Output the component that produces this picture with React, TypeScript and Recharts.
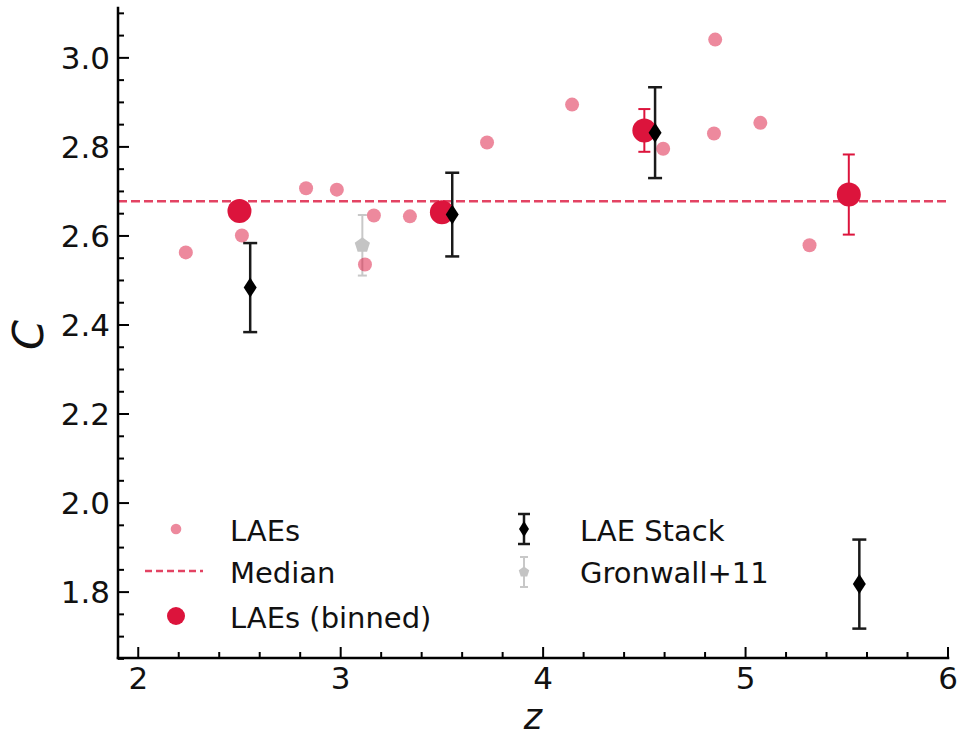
import React from 'react';
import { ScatterChart, Scatter, XAxis, YAxis, ErrorBar, ReferenceLine, Legend } from 'recharts';

// Individual LAEs
const laeZ = [2.235, 2.512, 2.829, 2.981, 3.164, 3.12, 3.342, 3.723, 4.143, 4.593, 4.85, 4.844, 5.073, 5.316];
const laeC = [2.563, 2.601, 2.707, 2.704, 2.646, 2.536, 2.644, 2.81, 2.895, 2.796, 3.041, 2.83, 2.854, 2.579];

// Binned LAEs
const binZ = [2.5, 3.5, 4.5, 5.51];
const binC = [2.656, 2.653, 2.837, 2.693];
const binErr = [0.02, 0.02, 0.048, 0.09];

// Stacked LAE spectra
const stackZ = [2.553, 3.551, 4.553, 5.562];
const stackC = [2.484, 2.648, 2.832, 1.818];
const stackErr = [0.1, 0.094, 0.102, 0.1];

// Gronwall et al. 2011
const gronZ = [3.107];
const gronC = [2.579];
const gronErr = [0.068];

const medianC = 2.678;

const xMajor = [2, 3, 4, 5, 6];
const yMajor = [1.8, 2.0, 2.2, 2.4, 2.6, 2.8, 3.0];
const xAllTicks = Array.from({ length: 21 }, (_, i) => Math.round((2 + i * 0.2) * 100) / 100);
const yAllTicks = Array.from({ length: 30 }, (_, i) => Math.round((1.65 + i * 0.05) * 100) / 100);

const X_DOMAIN: [number, number] = [1.9, 6.0];
const Y_DOMAIN: [number, number] = [1.652, 3.112];

// chart layout
const CHART_W = 960;
const CHART_H = 738;
const MARGIN = { top: 8, right: 12, bottom: 0, left: 0 };
const Y_AXIS_W = 118;
const X_AXIS_H = 80;
const PLOT_LEFT = MARGIN.left + Y_AXIS_W;
const PLOT_RIGHT = CHART_W - MARGIN.right;
const PLOT_TOP = MARGIN.top;
const PLOT_BOTTOM = CHART_H - MARGIN.bottom - X_AXIS_H;

const FONT = '"DejaVu Sans", sans-serif';
const TEXT = '#111';
const CRIMSON = '#dc143c';

const lae = laeZ.map((z, i) => ({ z, c: laeC[i] }));
const binned = binZ.map((z, i) => ({ z, c: binC[i], err: binErr[i] }));
const stack = stackZ.map((z, i) => ({ z, c: stackC[i], err: stackErr[i] }));
const gron = gronZ.map((z, i) => ({ z, c: gronC[i], err: gronErr[i] }));

const isMajor = (v: number, majors: number[]) => majors.some((m) => Math.abs(m - v) < 1e-6);

const MAJOR_LEN = 11;
const MINOR_LEN = 6;
const TICK_FONT = 31;

// inward-pointing ticks on all four sides of the frame
const BottomTick = (props: any) => {
  const { x, payload } = props;
  const y = PLOT_BOTTOM;
  const major = isMajor(payload.value, xMajor);
  return (
    <g>
      <line x1={x} y1={y} x2={x} y2={y - (major ? MAJOR_LEN : MINOR_LEN)} stroke="#000" strokeWidth={2} />
      {major && (
        <text x={x} y={y + 31} textAnchor="middle" fontSize={TICK_FONT} fontFamily={FONT} fill={TEXT}>
          {String(payload.value)}
        </text>
      )}
    </g>
  );
};

const TopTick = (props: any) => {
  const { x, payload } = props;
  const y = PLOT_TOP;
  const major = isMajor(payload.value, xMajor);
  return <line x1={x} y1={y} x2={x} y2={y + (major ? MAJOR_LEN : MINOR_LEN)} stroke="#000" strokeWidth={2} />;
};

const LeftTick = (props: any) => {
  const { y, payload } = props;
  const x = PLOT_LEFT;
  const major = isMajor(payload.value, yMajor);
  return (
    <g>
      <line x1={x} y1={y} x2={x + (major ? MAJOR_LEN : MINOR_LEN)} y2={y} stroke="#000" strokeWidth={2} />
      {major && (
        <text x={x - 8} y={y} dy="0.36em" textAnchor="end" fontSize={TICK_FONT} fontFamily={FONT} fill={TEXT}>
          {Number(payload.value).toFixed(1)}
        </text>
      )}
    </g>
  );
};

const RightTick = (props: any) => {
  const { y, payload } = props;
  const x = PLOT_RIGHT;
  const major = isMajor(payload.value, yMajor);
  return <line x1={x} y1={y} x2={x - (major ? MAJOR_LEN : MINOR_LEN)} y2={y} stroke="#000" strokeWidth={2} />;
};

const diamondPts = (cx: number, cy: number, hw: number, hh: number) =>
  `${cx},${cy - hh} ${cx + hw},${cy} ${cx},${cy + hh} ${cx - hw},${cy}`;

const pentagonPts = (cx: number, cy: number, r: number) =>
  Array.from({ length: 5 }, (_, k) => {
    const a = -Math.PI / 2 + (k * 2 * Math.PI) / 5;
    return `${cx + r * Math.cos(a)},${cy + r * Math.sin(a)}`;
  }).join(' ');

const LaeDot = (p: any) => <circle cx={p.cx} cy={p.cy} r={7} fill={CRIMSON} fillOpacity={0.5} />;
const BinDot = (p: any) => <circle cx={p.cx} cy={p.cy} r={12} fill={CRIMSON} />;
const StackDiamond = (p: any) => <polygon points={diamondPts(p.cx, p.cy, 6.5, 10)} fill="#000" />;
const GronPentagon = (p: any) => <polygon points={pentagonPts(p.cx, p.cy, 8)} fill="#c4c4c4" />;

const legendText = { fontSize: 29, fontFamily: FONT, fill: TEXT } as const;

const LegendBox = () => (
  <svg width={700} height={140} style={{ display: 'block' }}>
    <circle cx={46} cy={29} r={5.3} fill={CRIMSON} fillOpacity={0.5} />
    <text x={100} y={41} {...legendText}>LAEs</text>

    <line x1={15} y1={71} x2={73} y2={71} stroke="#e34363" strokeWidth={2.5} strokeDasharray="7 4" />
    <text x={100} y={83} {...legendText}>Median</text>

    <circle cx={46} cy={116} r={9} fill={CRIMSON} />
    <text x={100} y={128} {...legendText}>LAEs (binned)</text>

    <line x1={394} y1={14} x2={394} y2={44} stroke="#1a1a1a" strokeWidth={2.5} />
    <line x1={388} y1={14} x2={400} y2={14} stroke="#1a1a1a" strokeWidth={2.5} />
    <line x1={388} y1={44} x2={400} y2={44} stroke="#1a1a1a" strokeWidth={2.5} />
    <polygon points={diamondPts(394, 29, 5, 8)} fill="#000" />
    <text x={450} y={41} {...legendText}>LAE Stack</text>

    <line x1={394} y1={57} x2={394} y2={87} stroke="#c8c8c8" strokeWidth={2} />
    <line x1={390} y1={57} x2={398} y2={57} stroke="#c8c8c8" strokeWidth={2} />
    <line x1={390} y1={87} x2={398} y2={87} stroke="#c8c8c8" strokeWidth={2} />
    <polygon points={pentagonPts(394, 72, 5.5)} fill="#c4c4c4" />
    <text x={450} y={83} {...legendText}>Gronwall+11</text>
  </svg>
);

const frameLine = { stroke: '#000', strokeWidth: 2.5, strokeLinecap: 'square' as const };

export default function App() {
  return (
    <div style={{ position: 'absolute', left: 0, top: 0, background: '#fff' }}>
      <ScatterChart width={CHART_W} height={CHART_H} margin={MARGIN}>
        <XAxis
          xAxisId={0}
          dataKey="z"
          type="number"
          domain={X_DOMAIN}
          allowDataOverflow
          ticks={xAllTicks}
          interval={0}
          tickLine={false}
          tick={<BottomTick />}
          axisLine={frameLine}
          height={X_AXIS_H}
          label={{
            content: () => (
              <text
                x={(PLOT_LEFT + PLOT_RIGHT) / 2}
                y={PLOT_BOTTOM + 71}
                textAnchor="middle"
                fontSize={35}
                fontStyle="italic"
                fontFamily={FONT}
                fill={TEXT}
              >
                z
              </text>
            ),
          }}
        />
        <XAxis
          xAxisId="top"
          orientation="top"
          dataKey="z"
          type="number"
          domain={X_DOMAIN}
          allowDataOverflow
          ticks={xAllTicks}
          interval={0}
          tickLine={false}
          tick={<TopTick />}
          axisLine={frameLine}
          height={0}
        />
        <YAxis
          yAxisId={0}
          dataKey="c"
          type="number"
          domain={Y_DOMAIN}
          allowDataOverflow
          ticks={yAllTicks}
          interval={0}
          tickLine={false}
          tick={<LeftTick />}
          axisLine={frameLine}
          width={Y_AXIS_W}
          label={{
            content: () => {
              const cy = (PLOT_TOP + PLOT_BOTTOM) / 2 + 2;
              return (
                <text
                  x={43}
                  y={cy}
                  transform={`rotate(-90, 43, ${cy})`}
                  textAnchor="middle"
                  fontSize={43}
                  fontStyle="italic"
                  fontFamily={FONT}
                  fill={TEXT}
                >
                  C
                </text>
              );
            },
          }}
        />
        <YAxis
          yAxisId="right"
          orientation="right"
          dataKey="c"
          type="number"
          domain={Y_DOMAIN}
          allowDataOverflow
          ticks={yAllTicks}
          interval={0}
          tickLine={false}
          tick={<RightTick />}
          axisLine={frameLine}
          width={0}
        />

        <Scatter data={lae} xAxisId={0} yAxisId={0} shape={LaeDot} isAnimationActive={false} />

        <ReferenceLine
          y={medianC}
          xAxisId={0}
          yAxisId={0}
          stroke="#e34363"
          strokeWidth={2.5}
          strokeDasharray="9 4"
        />

        <Scatter data={binned} xAxisId={0} yAxisId={0} shape={BinDot} isAnimationActive={false}>
          <ErrorBar dataKey="err" direction="y" width={6} stroke={CRIMSON} strokeWidth={2} isAnimationActive={false} />
        </Scatter>

        <Scatter data={stack} xAxisId={0} yAxisId={0} shape={StackDiamond} isAnimationActive={false}>
          <ErrorBar dataKey="err" direction="y" width={7} stroke="#1a1a1a" strokeWidth={2.5} isAnimationActive={false} />
        </Scatter>

        <Scatter data={gron} xAxisId={0} yAxisId={0} shape={GronPentagon} isAnimationActive={false}>
          <ErrorBar dataKey="err" direction="y" width={4.5} stroke="#c8c8c8" strokeWidth={2} isAnimationActive={false} />
        </Scatter>

        <Legend
          layout="vertical"
          align="center"
          verticalAlign="middle"
          wrapperStyle={{ left: 130, top: 500, width: 700, height: 140 }}
          content={() => <LegendBox />}
        />
      </ScatterChart>
    </div>
  );
}
